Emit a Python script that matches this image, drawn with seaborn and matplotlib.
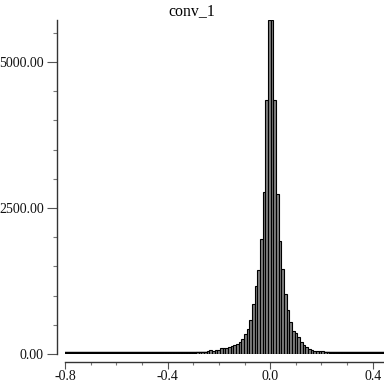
import numpy as np
import pandas as pd
import matplotlib
matplotlib.use("Agg")
import matplotlib.pyplot as plt
from matplotlib.ticker import MultipleLocator, FormatStrFormatter, FixedLocator
import seaborn as sns

# ---- data ----
title = "conv_1"
bin_start = -0.8
bin_stop = 0.45
n_bins = 120
counts = [
    0, 0, 0, 1, 0, 0, 0, 1, 0, 0, 1, 0, 1, 0, 1, 1, 0, 1, 1, 1,
    1, 2, 1, 2, 2, 3, 2, 3, 3, 4, 4, 5, 5, 6, 6, 7, 8, 9, 10, 11,
    12, 13, 14, 15, 17, 18, 20, 22, 24, 27,
    30, 34, 38, 45, 74, 57, 70, 76, 95, 105,
    110, 120, 130, 150, 175, 205, 257, 342, 434, 588,
    856, 1164, 1438, 1964, 2779, 4350, 5720, 5720, 4350, 2740,
    1940, 1450, 1030, 753, 553, 400, 354, 286, 200, 154,
    125, 86, 74, 57, 57, 46, 46, 34, 30, 25,
    20, 17, 14, 12, 10, 8, 7, 6, 5, 4,
    3, 3, 2, 2, 1, 1, 1, 0, 0, 0,
]
x_ticks = [-0.8, -0.4, 0.0, 0.4]
y_ticks = [0, 2500, 5000]
x_lim = (-0.8, 0.444)

sns.set_theme(style="ticks")
plt.rcParams["font.family"] = ["Liberation Serif", "DejaVu Serif"]
plt.rcParams["axes.unicode_minus"] = False

fig = plt.figure(figsize=(3.84, 3.84), dpi=100)
ax = fig.add_axes([65 / 384, 30 / 384, 319 / 384, 334 / 384])

width = (bin_stop - bin_start) / n_bins
centers = bin_start + width * (np.arange(n_bins) + 0.5)
df = pd.DataFrame({"value": centers, "count": counts})

# baseline drawn by the zero-height bar edges in the reference
ax.axhline(0, color="black", lw=3.2, zorder=1)

sns.histplot(data=df, x="value", weights="count", bins=n_bins,
             binrange=(bin_start, bin_stop), color="#808080",
             edgecolor="black", linewidth=0.8, alpha=1, ax=ax, zorder=2)

ax.set_xlim(*x_lim)
ax.set_ylim(0, max(counts))
ax.set_xlabel("")
ax.set_ylabel("")

ax.xaxis.set_major_locator(FixedLocator(x_ticks))
ax.xaxis.set_minor_locator(MultipleLocator(0.1))
ax.yaxis.set_major_locator(FixedLocator(y_ticks))
ax.yaxis.set_minor_locator(MultipleLocator(500))
ax.xaxis.set_major_formatter(FormatStrFormatter("%.1f"))
ax.yaxis.set_major_formatter(FormatStrFormatter("%.2f"))

ax.tick_params(axis="y", which="major", length=7, width=0.8,
               color="#555555", labelsize=10, labelcolor="#111111", pad=2.2)
ax.tick_params(axis="y", which="minor", length=3, width=0.8,
               color="#777777")
ax.tick_params(axis="x", which="major", length=5, width=0.8,
               color="#555555", labelsize=10, labelcolor="#111111", pad=0.2)
ax.tick_params(axis="x", which="minor", length=2.5, width=0.8,
               color="#777777")

sns.despine(ax=ax, offset=6)
for s in ("left", "bottom"):
    ax.spines[s].set_color("#333333")
    ax.spines[s].set_linewidth(1.0)

fig.text(0.5, 1 - 15 / 384, title, ha="center", va="baseline",
         fontsize=11.4, color="black")

fig.savefig("out.png", dpi=100)
